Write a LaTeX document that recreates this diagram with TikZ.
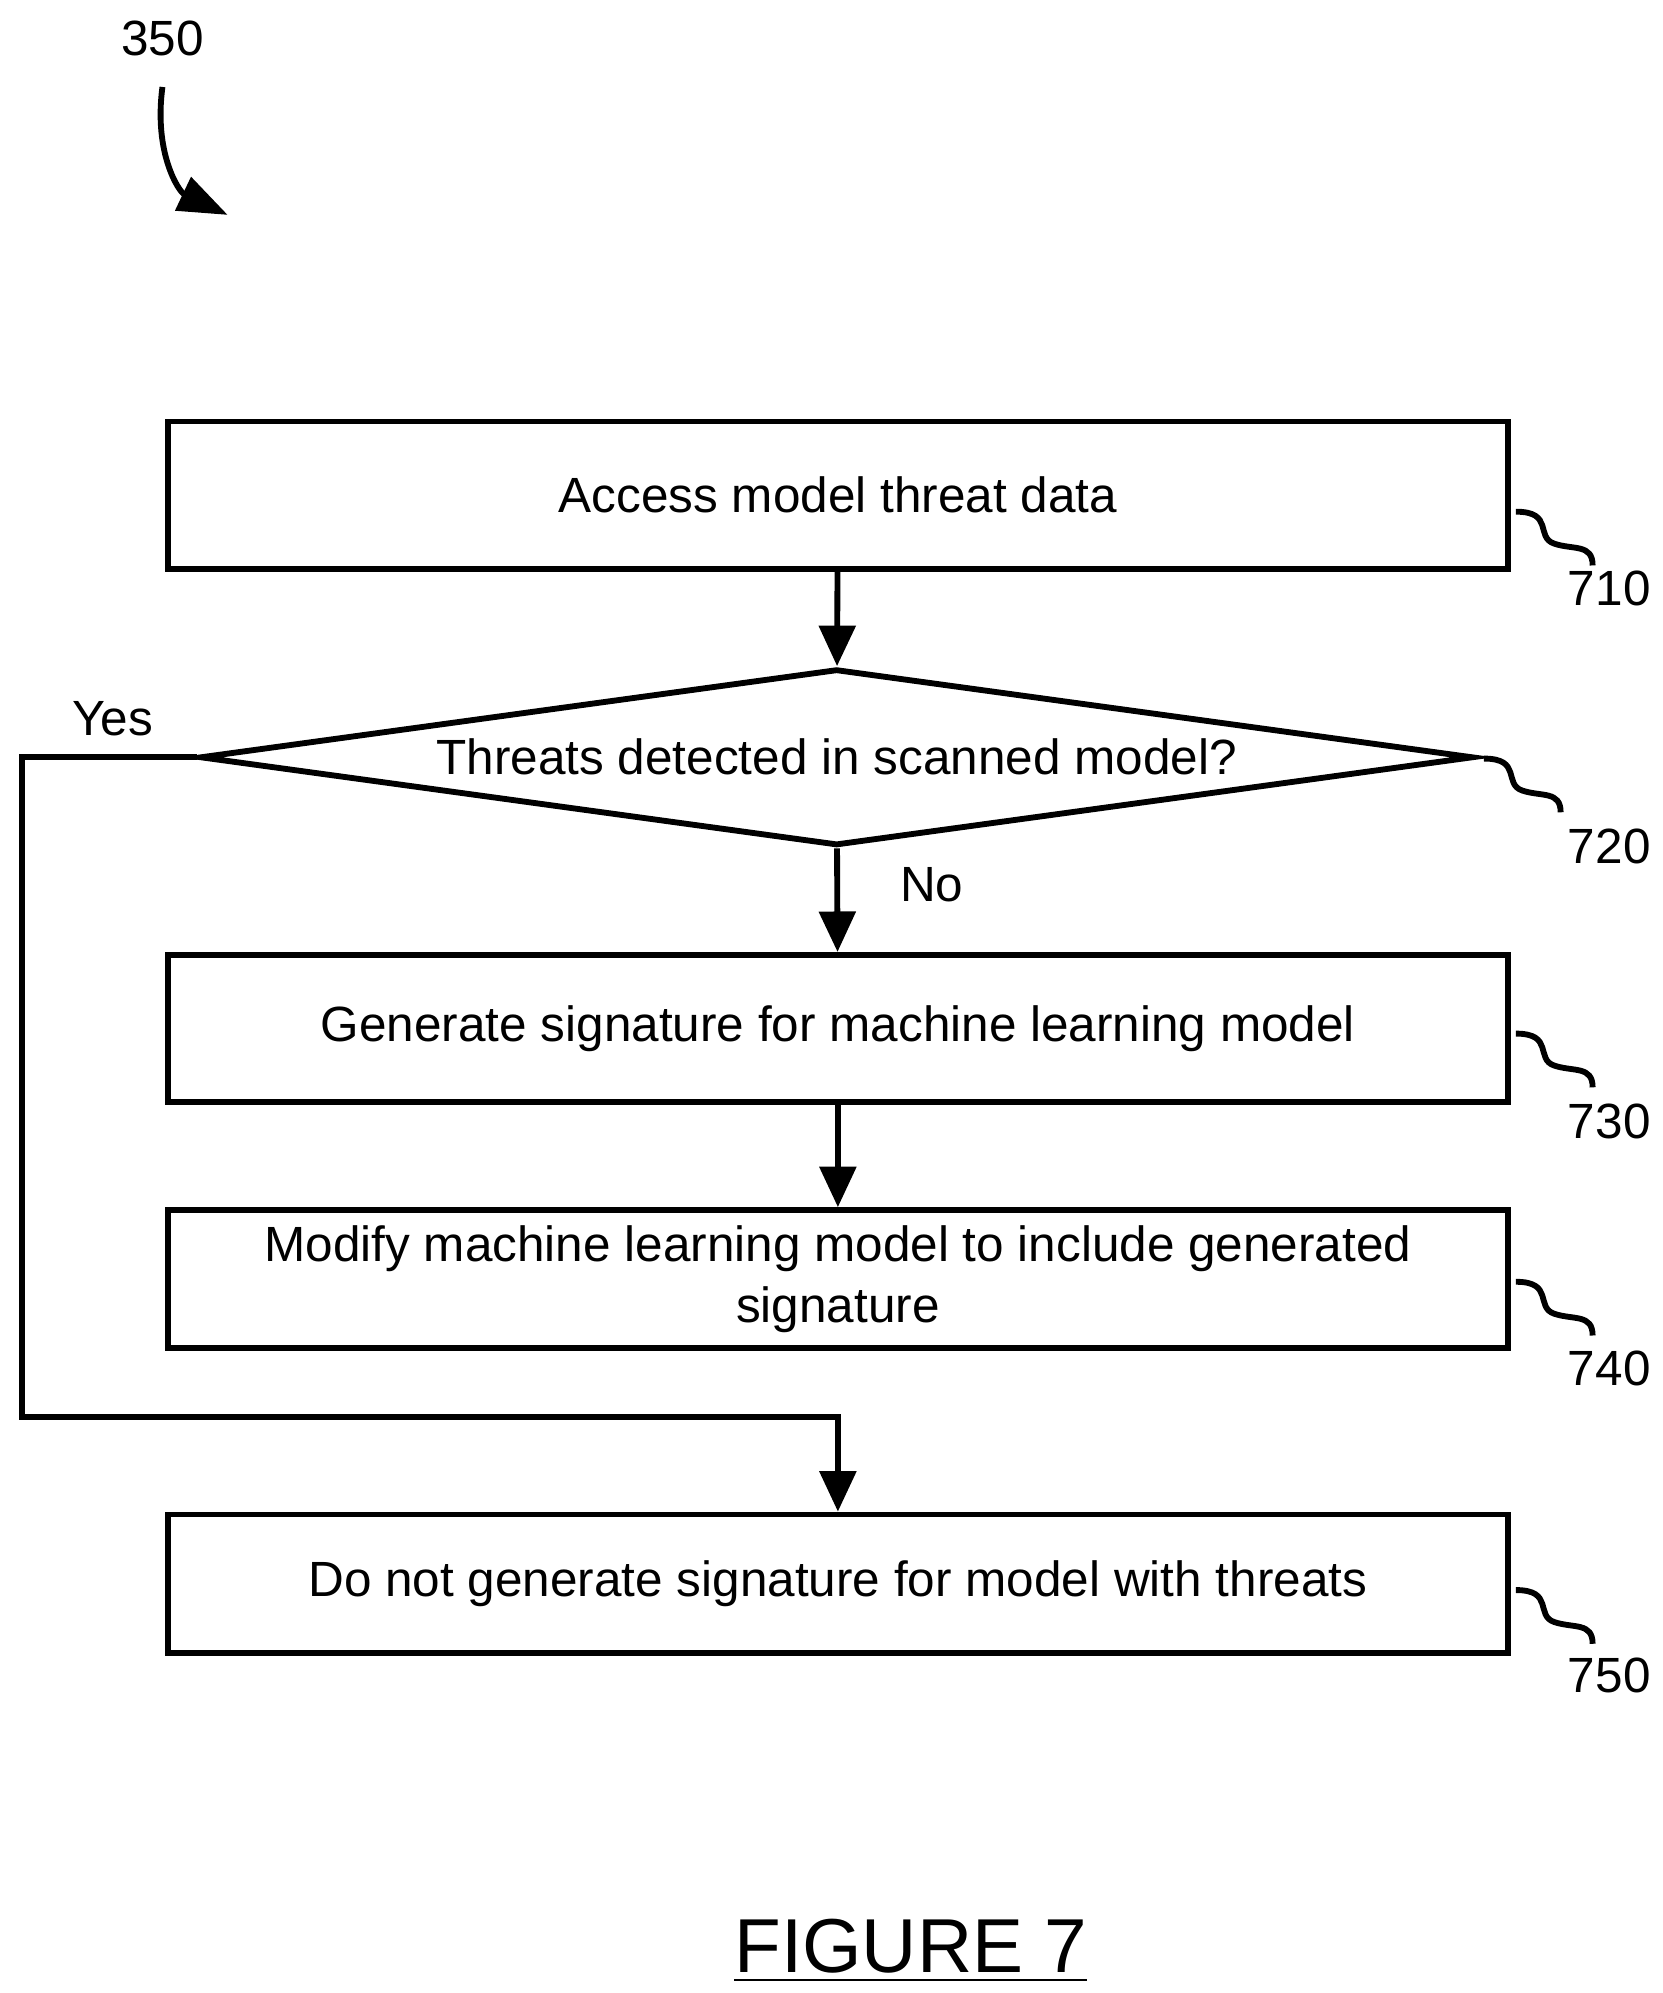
\documentclass[tikz,border=0pt]{standalone}
\usepackage{fontspec}
\setmainfont{Liberation Sans}
\usetikzlibrary{arrows.meta,shapes.geometric}
\tikzset{
  stepbox/.style={draw, line width=1.3pt, minimum width=10.47cm, minimum height=1.15cm, align=center, font=\fontsize{11}{13.5}\selectfont},
  flow/.style={line width=1.3pt, -{Triangle[length=9pt,width=8pt]}},
  ref/.style={font=\fontsize{11}{13.5}\selectfont},
  tick/.style={line width=1.3pt}
}
\begin{document}
\begin{tikzpicture}[x=0.01cm, y=-0.01cm]
\useasboundingbox (0,0) rectangle (1300,1558);

% steps
\node[stepbox] (s710) at (655,387) {Access model threat data};
\node[draw, line width=1.3pt, diamond, aspect=7.2, minimum width=9.95cm, minimum height=1.38cm, inner sep=0pt] (s720) at (654,592) {};
\node[ref] at (654,592) {Threats detected in scanned model?};
\node[stepbox] (s730) at (655,804) {Generate signature for machine learning model};
\node[stepbox, minimum height=1.08cm] (s740) at (655,1000) {Modify machine learning model to include generated\\signature};
\node[stepbox, minimum height=1.08cm] (s750) at (655,1238) {Do not generate signature for model with threats};

% connectors
\draw[flow] (s710) -- (s720);
\draw[flow] (s720) -- (s730) node[pos=0.35, right=10pt, ref] {No};
\draw[flow] (s730) -- (s740);
\coordinate (yl) at (17,592);
\coordinate (yb) at (17,1108);
\coordinate (yr) at (655,1108);
\draw[flow] (s720.west) -- (yl) -- (yb) -- (yr) -- (s750);
\node[ref] at (88,562) {Yes};

% reference numerals
\foreach \n/\x/\y/\ly in {710/1185/400/460, 720/1160/593/662, 730/1185/808/877, 740/1185/1002/1070, 750/1185/1243/1310}{
  \draw[tick] (\x,\y) .. controls (\x+30,\y) and (\x+15,\y+20) .. (\x+30,\y+25) .. controls (\x+45,\y+30) and (\x+60,\y+25) .. (\x+60,\y+42);
  \node[ref] at (1258,\ly) {\n};
}
\node[ref] (fig) at (127,30) {350};
\draw[line width=1.3pt, -{Triangle[length=11pt,width=8pt]}] (127,68) .. controls (120,120) and (140,150) .. (178,168);

\node[font=\fontsize{17}{20}\selectfont] at (712,1525) {\underline{FIGURE 7}};
\end{tikzpicture}
\end{document}
